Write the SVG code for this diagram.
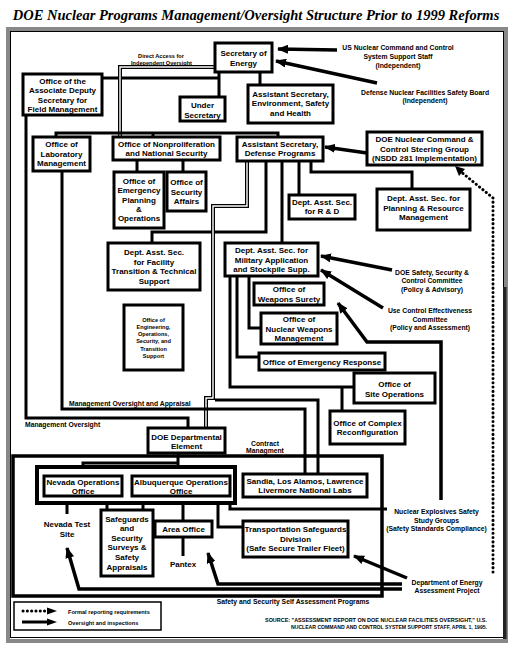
<svg xmlns="http://www.w3.org/2000/svg" width="512" height="648" viewBox="0 0 512 648">
<defs>
<marker id="ah" viewBox="0 0 11 9" refX="10" refY="4.5" markerWidth="11" markerHeight="9" markerUnits="userSpaceOnUse" orient="auto">
<path d="M0,0 L11,4.5 L0,9 z" fill="#000"/>
</marker>
<style>
.box{fill:#fff;stroke:#000;stroke-width:3}
.wrap{fill:none;stroke:#000;stroke-width:3.5}
.t{font-family:"Liberation Sans",Arial,sans-serif;font-weight:bold;font-size:8px;text-anchor:middle;fill:#000}
.m{font-size:6.8px}
.s{font-size:5.6px}
.l{text-anchor:start}
.ln{fill:none;stroke:#000;stroke-width:3}
.ar{fill:none;stroke:#000;stroke-width:3.5;marker-end:url(#ah)}
.dot{fill:none;stroke:#000;stroke-width:3;stroke-dasharray:0.1 4.2;stroke-linecap:round}
.dbo{fill:none;stroke:#000;stroke-width:4}
.dbi{fill:none;stroke:#fff;stroke-width:1.4}
</style>
</defs>
<rect width="512" height="648" fill="#fff"/>
<text x="256" y="20" font-family="Liberation Serif,'Times New Roman',serif" font-weight="bold" font-style="italic" font-size="14.5" text-anchor="middle">DOE Nuclear Programs Management/Oversight Structure Prior to 1999 Reforms</text>
<g id="frame">
<rect x="8" y="29" width="498" height="612" fill="none" stroke="#888" stroke-width="4"/>
<rect x="10.5" y="31.5" width="493" height="606" fill="none" stroke="#000" stroke-width="1"/>
<rect x="503" y="287" width="3.5" height="352" fill="#222"/>
</g>
<g id="field-box">
<rect x="13" y="456" width="369" height="140" class="wrap"/>
</g>
<g id="connectors">
<path class="ln" d="M102,78 H219 M219,71 V97 M260,71 V85"/>
<path class="dbo" d="M215,67 H120 V137"/>
<path class="dbi" d="M215,67 H120 V137"/>
<path class="ln" d="M26,115 V418 H188 V428"/>
<path class="ln" d="M56,137 V133 H278 V137 M153,133 V137"/>
<path class="ln" d="M137,160 V172 M183,160 V172"/>
<path class="ln" d="M266,161 V232 H152 V243 M282,161 V243 M299,161 V195 M311,161 V172 H412 V189"/>
<path class="dbo" d="M247,161 V206 H213 V398 H206 V428"/>
<path class="dbi" d="M247,161 V206 H213 V398 H206 V428"/>
<path class="ln" d="M215,400 H318 V474"/>
<path class="ln" d="M62,171 V409 H305 V474"/>
<path class="ln" d="M230,276 V387 H354 M342,387 V411 M237,276 V357 H259 M249,276 V328 H261"/>
<path class="ln" d="M178,453 V467 M83,467 V463 H178"/>
<path class="ln" d="M67,496 V514 M107,496 V510 M143,496 V510 M183,496 V521 M183,537 V556 M218,496 V527 H243 M230,496 V509 H387"/>
<path class="ar" d="M337,50 L278,49"/>
<path class="ar" d="M377,83 L276,61"/>
<path class="ar" d="M367,153 L325,147"/>
<path class="ar" d="M392,270 L321,256"/>
<path class="ar" d="M383,308 L321,270"/>
<path class="ar" d="M441,500 V342 H367 L338,303"/>
<path class="ar" d="M407,578 L354,556"/>
<path class="ar" d="M402,584 H218 L208,553"/>
<path class="ar" d="M402,589 H79 L67,548"/>
<path class="dot" d="M493,572 V198 L460,171"/>
<path d="M455,166 L465,169 L459,176 z" fill="#000"/>
</g>
<g id="n-secretary"><rect class="box" x="215" y="43" width="57" height="29"/><text class="t" x="243.5" y="56">Secretary of</text><text class="t" x="243.5" y="66">Energy</text></g>
<g id="n-assoc"><rect class="box" x="23" y="74" width="79" height="41"/><text class="t" x="62.5" y="83.5">Office of the</text><text class="t" x="62.5" y="93">Associate Deputy</text><text class="t" x="62.5" y="102.5">Secretary for</text><text class="t" x="62.5" y="112">Field Management</text></g>
<g id="n-under"><rect class="box" x="180" y="97" width="45" height="24"/><text class="t" x="202.5" y="107.5">Under</text><text class="t" x="202.5" y="117.5">Secretary</text></g>
<g id="n-esh"><rect class="box" x="248" y="85" width="85" height="38"/><text class="t" x="290.5" y="96.5">Assistant Secretary,</text><text class="t" x="290.5" y="106">Environment, Safety</text><text class="t" x="290.5" y="115.5">and Health</text></g>
<g id="n-lab"><rect class="box" x="33" y="137" width="57" height="34"/><text class="t" x="61.5" y="147">Office of</text><text class="t" x="61.5" y="156.5">Laboratory</text><text class="t" x="61.5" y="166">Management</text></g>
<g id="n-nonpro"><rect class="box" x="113" y="137" width="107" height="23"/><text class="t" x="166.5" y="146.5">Office of Nonproliferation</text><text class="t" x="166.5" y="156">and National Security</text></g>
<g id="n-defprog"><rect class="box" x="237" y="137" width="86" height="24"/><text class="t" x="280" y="146.5">Assistant Secretary,</text><text class="t" x="280" y="156">Defense Programs</text></g>
<g id="n-steer"><rect class="box" x="367" y="132" width="115" height="33"/><text class="t" x="424.5" y="142">DOE Nuclear Command &amp;</text><text class="t" x="424.5" y="151.5">Control Steering Group</text><text class="t" x="424.5" y="161">(NSDD 281 Implementation)</text></g>
<g id="n-emerplan"><rect class="box" x="114" y="172" width="50" height="56"/><text class="t" x="139" y="184">Office of</text><text class="t" x="139" y="193.3">Emergency</text><text class="t" x="139" y="202.6">Planning</text><text class="t" x="139" y="211.9">&amp;</text><text class="t" x="139" y="221.2">Operations</text></g>
<g id="n-secaff"><rect class="box" x="167" y="172" width="39" height="39"/><text class="t" x="186.5" y="185">Office of</text><text class="t" x="186.5" y="194.5">Security</text><text class="t" x="186.5" y="204">Affairs</text></g>
<g id="n-rd"><rect class="box" x="289" y="195" width="66" height="24"/><text class="t" x="322" y="204.5">Dept. Asst. Sec.</text><text class="t" x="322" y="214">for R &amp; D</text></g>
<g id="n-plan"><rect class="box" x="377" y="189" width="93" height="41"/><text class="t" x="423.5" y="201">Dept. Asst. Sec. for</text><text class="t" x="423.5" y="210.5">Planning &amp;  Resource</text><text class="t" x="423.5" y="220">Management</text></g>
<g id="n-facil"><rect class="box" x="108" y="243" width="92" height="47"/><text class="t" x="154" y="255">Dept. Asst. Sec.</text><text class="t" x="154" y="264.5">for Facility</text><text class="t" x="154" y="274">Transition &amp;  Technical</text><text class="t" x="154" y="283.5">Support</text></g>
<g id="n-milapp"><rect class="box" x="225" y="243" width="93" height="33"/><text class="t" x="271.5" y="253">Dept. Asst. Sec. for</text><text class="t" x="271.5" y="262.5">Military Application</text><text class="t" x="271.5" y="272">and Stockpile Supp.</text></g>
<g id="n-engops"><rect class="box" x="124" y="305" width="59" height="65"/><text class="t s" x="153.5" y="321.5">Office of</text><text class="t s" x="153.5" y="328.8">Engineering,</text><text class="t s" x="153.5" y="336.1">Operations,</text><text class="t s" x="153.5" y="343.4">Security, and</text><text class="t s" x="153.5" y="350.7">Transition</text><text class="t s" x="153.5" y="358">Support</text></g>
<g id="n-wsurety"><rect class="box" x="254" y="283" width="70" height="22"/><text class="t" x="289" y="292">Office of</text><text class="t" x="289" y="301.5">Weapons Surety</text></g>
<g id="n-nwm"><rect class="box" x="261" y="313" width="76" height="31"/><text class="t" x="299" y="322">Office of</text><text class="t" x="299" y="331.5">Nuclear Weapons</text><text class="t" x="299" y="341">Management</text></g>
<g id="n-emresp"><rect class="box" x="259" y="353" width="126" height="17"/><text class="t" x="322" y="364.5">Office of Emergency Response</text></g>
<g id="n-siteops"><rect class="box" x="354" y="373" width="81" height="30"/><text class="t" x="394.5" y="387">Office of</text><text class="t" x="394.5" y="396.5">Site Operations</text></g>
<g id="n-complex"><rect class="box" x="330" y="411" width="75" height="33"/><text class="t" x="367.5" y="425.5">Office of Complex</text><text class="t" x="367.5" y="435">Reconfiguration</text></g>
<g id="n-doedept"><rect class="box" x="148" y="428" width="77" height="25"/><text class="t" x="186.5" y="439.5" font-size="8.6">DOE Departmental</text><text class="t" x="186.5" y="449" font-size="8.6">Element</text></g>
<g id="n-opsgroup"><rect x="37" y="467" width="198" height="36" fill="#fff" stroke="#000" stroke-width="4"/></g>
<g id="n-nevops"><rect class="box" x="44" y="476" width="78" height="20"/><text class="t" x="83" y="484.5">Nevada Operations</text><text class="t" x="83" y="494">Office</text></g>
<g id="n-albops"><rect class="box" x="132" y="476" width="98" height="20"/><text class="t" x="181" y="484.5">Albuquerque Operations</text><text class="t" x="181" y="494">Office</text></g>
<g id="n-sandia"><rect class="box" x="243" y="474" width="124" height="23"/><text class="t" x="305" y="483.5">Sandia, Los Alamos, Lawrence</text><text class="t" x="305" y="493">Livermore National Labs</text></g>
<g id="n-safeg"><rect class="box" x="101" y="510" width="52" height="66"/><text class="t" x="127" y="521.5">Safeguards</text><text class="t" x="127" y="531.1">and</text><text class="t" x="127" y="540.7">Security</text><text class="t" x="127" y="550.3">Surveys &amp;</text><text class="t" x="127" y="559.9">Safety</text><text class="t" x="127" y="569.5">Appraisals</text></g>
<g id="n-area"><rect class="box" x="155" y="521" width="57" height="16"/><text class="t" x="183.5" y="532">Area Office</text></g>
<g id="n-transp"><rect class="box" x="243" y="521" width="105" height="36"/><text class="t" x="295.5" y="532">Transportation Safeguards</text><text class="t" x="295.5" y="541.5">Division</text><text class="t" x="295.5" y="551">(Safe Secure Trailer Fleet)</text></g>
<g id="n-nts"><text class="t" x="67" y="527">Nevada Test</text><text class="t" x="67" y="536.5">Site</text></g>
<g id="n-pantex"><text class="t" x="183" y="567">Pantex</text></g>
<g id="n-usnccs"><text class="t m" x="398" y="49.5">US Nuclear Command and Control</text><text class="t m" x="398" y="58.5">System Support Staff</text><text class="t m" x="398" y="67.5">(Independent)</text></g>
<g id="n-dnfsb"><text class="t m" x="425" y="95">Defense Nuclear Facilities Safety Board</text><text class="t m" x="425" y="103">(Independent)</text></g>
<g id="n-dsscc"><text class="t m" x="432" y="275">DOE Safety, Security &amp;</text><text class="t m" x="432" y="283.3">Control Committee</text><text class="t m" x="432" y="291.6">(Policy &amp; Advisory)</text></g>
<g id="n-ucec"><text class="t m" x="430" y="313">Use Control Effectiveness</text><text class="t m" x="430" y="321.5">Committee</text><text class="t m" x="430" y="330">(Policy and Assessment)</text></g>
<g id="n-nessg"><text class="t m" x="436.5" y="514">Nuclear Explosives Safety</text><text class="t m" x="436.5" y="522.5">Study Groups</text><text class="t m" x="436.5" y="531">(Safety Standards Compliance)</text></g>
<g id="n-doeap"><text class="t m" x="447" y="585">Department of Energy</text><text class="t m" x="447" y="593">Assessment Project</text></g>
<g id="labels">
<text class="t s" x="161" y="57.5">Direct Access for</text>
<text class="t s" x="161.5" y="64.5">Independent Oversight</text>
<text class="t m l" x="69" y="406">Management Oversight and Appraisal</text>
<text class="t m l" x="25" y="427">Management Oversight</text>
<text class="t m" x="265" y="445.5">Contract</text>
<text class="t m" x="265" y="453">Managment</text>
<text class="t m" x="293" y="603.5">Safety and Security Self Assessment Programs</text>
</g>
<g id="legend">
<rect x="14" y="602" width="147" height="28" fill="#fff" stroke="#000" stroke-width="1.5"/>
<path class="dot" d="M23,611 H48"/>
<path d="M47,607.5 L57,611 L47,614.5 z" fill="#000"/>
<path d="M22,622 H48" stroke="#000" stroke-width="3" fill="none"/>
<path d="M47,618.5 L57,622 L47,625.5 z" fill="#000"/>
<text class="t s l" x="68" y="613.5">Formal reporting requirements</text>
<text class="t s l" x="68" y="624.5">Oversight and inspections</text>
</g>
<g id="source">
<text class="t s" x="487" y="621.5" style="text-anchor:end" textLength="222" lengthAdjust="spacingAndGlyphs">SOURCE: "ASSESSMENT REPORT ON DOE NUCLEAR FACILITIES OVERSIGHT," U.S.</text>
<text class="t s" x="487" y="628.5" style="text-anchor:end" textLength="196" lengthAdjust="spacingAndGlyphs">NUCLEAR COMMAND AND CONTROL SYSTEM SUPPORT STAFF, APRIL 1, 1995.</text>
</g>
</svg>
